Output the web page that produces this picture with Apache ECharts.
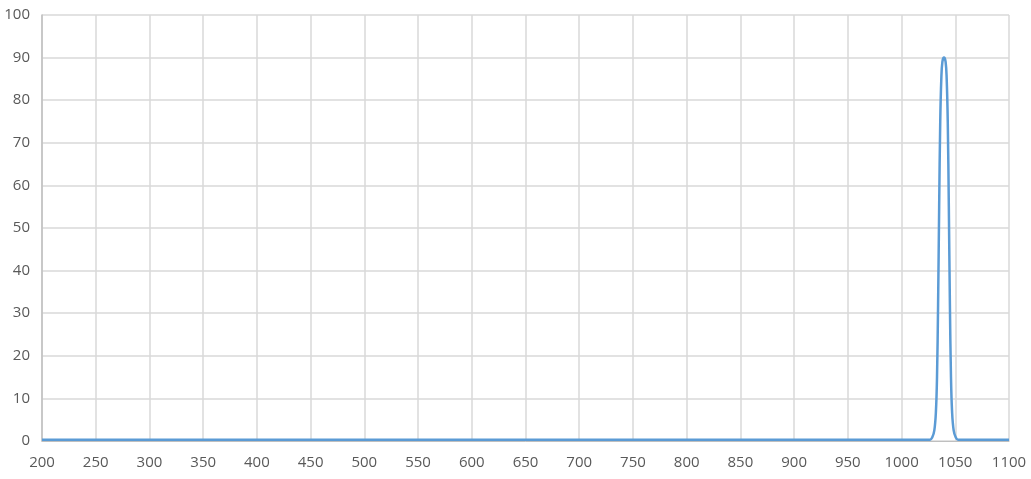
<!DOCTYPE html>
<html lang="en">
<head>
    <meta charset="UTF-8">
    <title>Transmission</title>
    <script src="https://cdn.jsdelivr.net/npm/echarts@6/dist/echarts.min.js"></script>
    <style>
        html, body { margin: 0; padding: 0; background: #fff; }
    </style>
</head>
<body>
    <div id="main" style="width: 1031px;height: 479px;"></div>
    <script>
        // wavelength (nm) and transmission (%)
        var wavelength = [200, 400, 600, 800, 1000, 1020, 1026.5, 1028.5, 1030.5, 1032, 1033, 1034, 1035, 1036, 1037, 1038,
            1039.5, 1041, 1042, 1043, 1044, 1045, 1046, 1047, 1048.5, 1050.5, 1052.5, 1060, 1080, 1100];
        var transmission = [0.3, 0.3, 0.3, 0.3, 0.3, 0.3, 0.3, 0.8, 2.5, 7, 15, 32, 55, 75, 85, 89,
            90, 89, 85, 75, 55, 32, 15, 7, 2.5, 0.8, 0.3, 0.3, 0.3, 0.3];

        var data = [];
        for (var i = 0; i < wavelength.length; i++) {
            data.push([wavelength[i], transmission[i]]);
        }

        var myChart = echarts.init(document.getElementById('main'));
        var labelStyle = { color: '#595959', fontSize: 15, fontFamily: 'Open Sans' };
        var plain = function (v) { return String(v); };

        var option = {
            animation: false,
            grid: { left: 42, right: 22, top: 15, bottom: 38 },
            xAxis: {
                type: 'value',
                min: 200,
                max: 1100,
                interval: 50,
                axisLine: { show: true, lineStyle: { color: '#bfbfbf', width: 1 } },
                axisTick: { show: false },
                axisLabel: Object.assign({ margin: 14, showMaxLabel: true, showMinLabel: true, formatter: plain }, labelStyle),
                splitLine: { show: true, lineStyle: { color: '#d9d9d9', width: 1.5 } }
            },
            yAxis: {
                type: 'value',
                min: 0,
                max: 100,
                interval: 10,
                axisLine: { show: true, lineStyle: { color: '#bfbfbf', width: 1.5 } },
                axisTick: { show: false },
                axisLabel: Object.assign({ margin: 12, formatter: plain }, labelStyle),
                splitLine: { show: true, lineStyle: { color: '#d9d9d9', width: 1.5 } }
            },
            series: [{
                type: 'line',
                data: data,
                smooth: 0.4,
                showSymbol: false,
                lineStyle: { color: '#5b9bd5', width: 2.5 }
            }]
        };

        myChart.setOption(option);
    </script>
</body>
</html>
